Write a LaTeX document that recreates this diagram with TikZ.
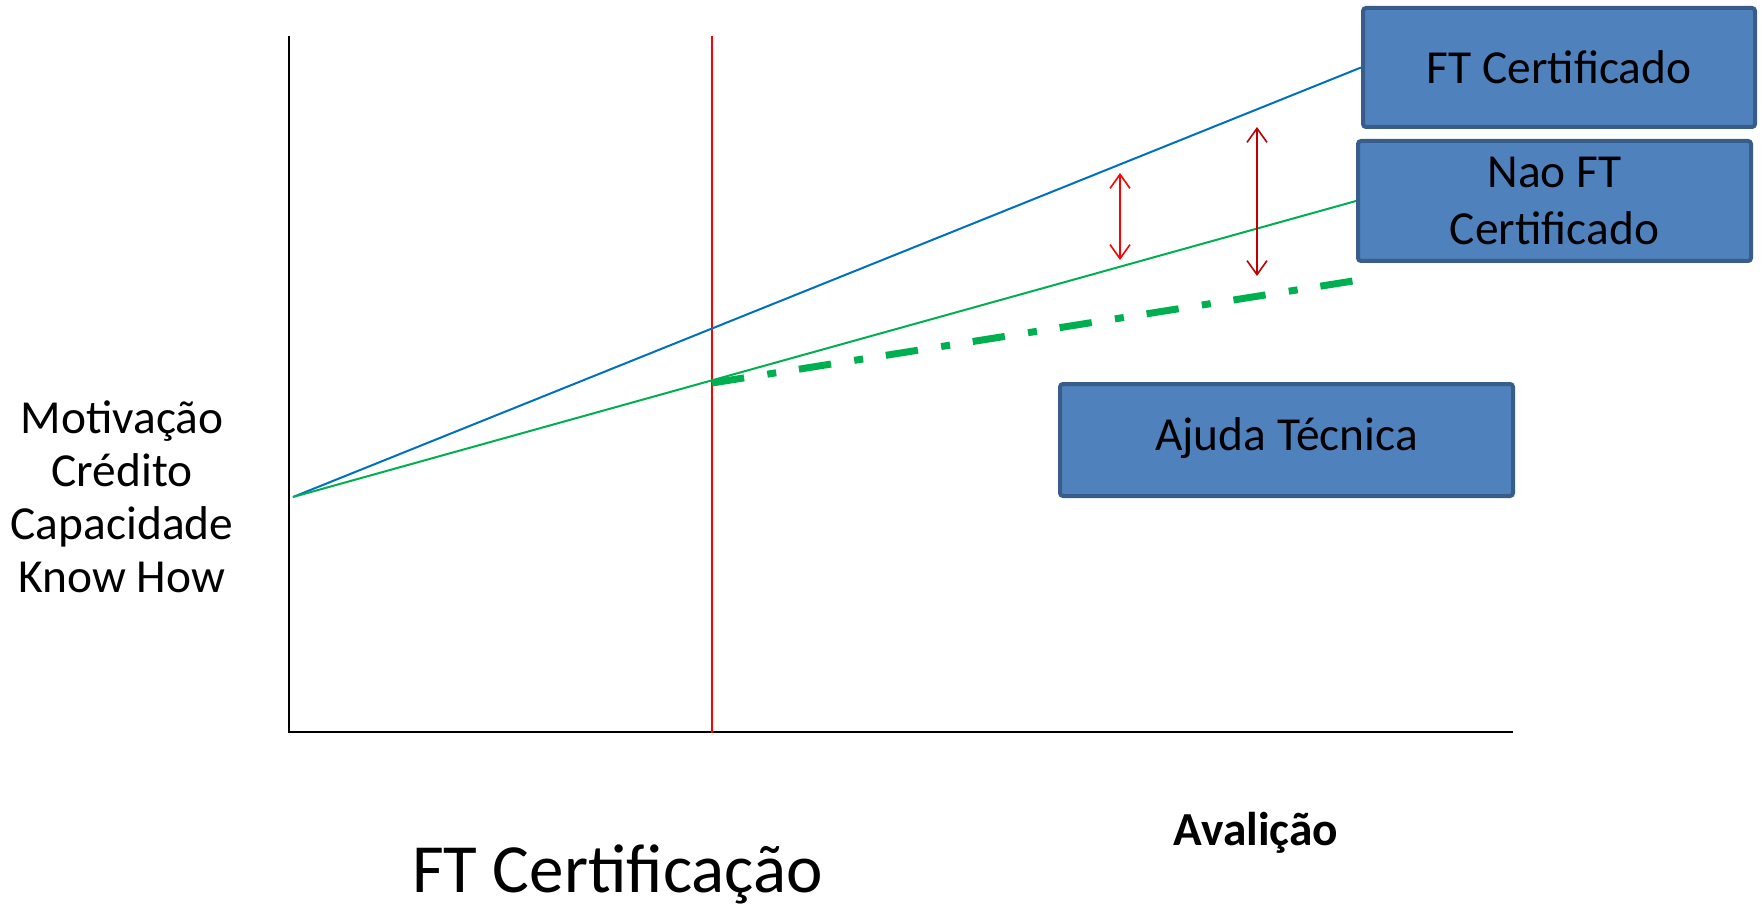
\documentclass[tikz,border=0pt]{standalone}
\usepackage{fontspec}
\setmainfont{Carlito}
\usetikzlibrary{arrows.meta}
\definecolor{boxfill}{HTML}{4F81BD}
\definecolor{boxdraw}{HTML}{385D8A}
\definecolor{pblue}{HTML}{0070C0}
\definecolor{pgreen}{HTML}{00B050}
\definecolor{pred}{HTML}{FF0000}
\definecolor{dred}{HTML}{C00000}
\begin{document}
\begin{tikzpicture}[x=0.5pt,y=-0.5pt,
  labelbox/.style={draw=boxdraw, fill=boxfill, line width=2pt, rounded corners=1.5pt,
    font=\fontsize{23.7}{28.5}\selectfont, align=center, inner sep=0pt},
  axisline/.style={line width=1.25pt, black},
  trend/.style={line width=1pt},
  gaparrow/.style={line width=0.8pt,
    {Straight Barb[length=7pt,width=10pt]}-{Straight Barb[length=7pt,width=10pt]}},
  plain/.style={inner sep=0pt, anchor=base}
]
\useasboundingbox (0,0) rectangle (1762,909);
\node[labelbox, minimum width=196pt, minimum height=59.5pt] (ftc) at (1559,67.5) {FT Certificado};
\node[labelbox, minimum width=196.5pt, minimum height=60pt] (nftc) at (1554.5,201) {Nao FT\\Certificado};
\node[labelbox, minimum width=226.5pt, minimum height=56pt] (ajuda) at (1286.5,440) {\raisebox{-5pt}[0pt][0pt]{Ajuda Técnica}};

\coordinate (o) at (293,497);
\coordinate (ytop) at (289,36);
\coordinate (corner) at (289,732);
\coordinate (xend) at (1513,732);
\draw[axisline] (ytop) -- (corner) -- (xend);

\coordinate (rtop) at (712,36);
\coordinate (rbot) at (712,733);
\draw[pred, line width=1pt] (rtop) -- (rbot);

\draw[trend, pblue] (o) -- (ftc.west);
\draw[trend, pgreen] (o) -- (nftc.west);

\coordinate (dstart) at (712,383);
\coordinate (dend) at (1353,281);
\draw[pgreen, line width=3.5pt, dash pattern=on 16.25pt off 11.75pt on 4.5pt off 11.5pt] (dstart) -- (dend);

\coordinate (a1t) at (1120,173);
\coordinate (a1b) at (1120,260);
\draw[gaparrow, pred] (a1t) -- (a1b);
\coordinate (a2t) at (1257,127);
\coordinate (a2b) at (1257,276);
\draw[gaparrow, dred] (a2t) -- (a2b);

\node[plain, font=\fontsize{23.7}{26.5}\selectfont] (ylab) at (122,433)
  {\begin{tabular}[t]{@{}c@{}}Motivação\\Crédito\\Capacidade\\Know How\end{tabular}};
\node[plain, font=\fontsize{34.5}{41}\selectfont] (cert) at (617.5,892) {FT Certificação};
\node[plain, font=\bfseries\fontsize{23.7}{28}\selectfont] (aval) at (1256,845) {Avalição};
\end{tikzpicture}
\end{document}
